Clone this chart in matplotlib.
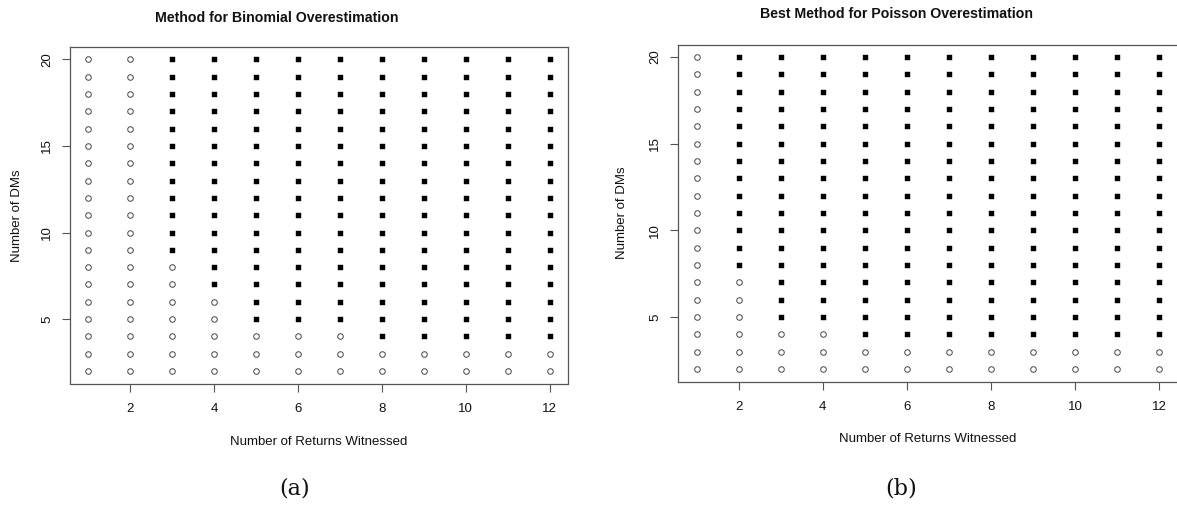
import numpy as np
import matplotlib
matplotlib.use("Agg")
import matplotlib.pyplot as plt

plt.rcParams['font.family'] = ['Liberation Sans', 'DejaVu Sans']

# grid of scenarios
returns_witnessed = [1, 2, 3, 4, 5, 6, 7, 8, 9, 10, 11, 12]
num_dms = list(range(2, 21))

# smallest number of DMs at which the method is chosen (None = never)
binomial_cutoff = [None, None, 9, 7, 5, 5, 5, 4, 4, 4, 4, 4]
poisson_cutoff = [None, 8, 5, 5, 4, 4, 4, 4, 4, 4, 4, 4]

titles = ["Method for Binomial Overestimation", "Best Method for Poisson Overestimation"]
panel_tags = ["(a)", "(b)"]

W, H = 1177, 524
fig = plt.figure(figsize=(W / 100, H / 100), dpi=100)

def fx(px):
    return px / W

def fy(py):
    return 1 - py / H

# axes boxes in pixels: left, top, right, bottom
boxes = [(70, 47, 568, 383.5), (678, 44.5, 1178, 381.5)]
title_pos = [(277, 18), (897, 14)]
tag_pos = [(295, 488), (901, 488)]
ylabel_x = [17, 622]

GREY = "#555555"


def draw_panel(ax, cutoffs):
    xs_c, ys_c, xs_s, ys_s = [], [], [], []
    for x, cut in zip(returns_witnessed, cutoffs):
        for y in num_dms:
            if cut is not None and y >= cut:
                xs_s.append(x)
                ys_s.append(y)
            else:
                xs_c.append(x)
                ys_c.append(y)
    ax.plot(xs_c, ys_c, linestyle="none", marker="o", markersize=4.0,
            markerfacecolor="white", markeredgecolor="#444444", markeredgewidth=0.7)
    ax.plot(xs_s, ys_s, linestyle="none", marker="s", markersize=3.6,
            markerfacecolor="black", markeredgecolor="black", markeredgewidth=0.3)

    ax.set_xlim(0.56, 12.44)
    ax.set_ylim(1.28, 20.72)
    ax.set_xticks([2, 4, 6, 8, 10, 12])
    ax.set_yticks([5, 10, 15, 20])
    ax.tick_params(axis="both", length=6, width=0.8, color=GREY, labelsize=9.5,
                   labelcolor="#111111")
    ax.tick_params(axis="x", pad=8)
    ax.tick_params(axis="y", pad=6)
    for lab in ax.get_yticklabels():
        lab.set_rotation(90)
        lab.set_va("center")
    for sp in ax.spines.values():
        sp.set_color(GREY)
        sp.set_linewidth(0.9)


for i, cutoffs in enumerate([binomial_cutoff, poisson_cutoff]):
    l, t, r, b = boxes[i]
    ax = fig.add_axes([fx(l), fy(b), fx(r - l), (b - t) / H])
    draw_panel(ax, cutoffs)

    ax.set_xlabel("Number of Returns Witnessed", fontsize=9.5, color="#111111")
    ax.xaxis.set_label_coords(0.5, (b - (442 if i == 0 else 439)) / (b - t))
    ax.xaxis.label.set_va("center")
    ax.set_ylabel("Number of DMs", fontsize=9.5, color="#111111")
    ax.yaxis.set_label_coords((ylabel_x[i] - l) / (r - l), 0.5)
    ax.yaxis.label.set_va("center")

    tx, ty = title_pos[i]
    fig.text(fx(tx), fy(ty), titles[i], ha="center", va="center",
             fontsize=10.2, fontweight="bold", color="#111111")
    gx, gy = tag_pos[i]
    fig.text(fx(gx), fy(gy), panel_tags[i], ha="center", va="center",
             fontsize=16, family="DejaVu Serif", color="#111111")

fig.savefig("out.png", dpi=100)
